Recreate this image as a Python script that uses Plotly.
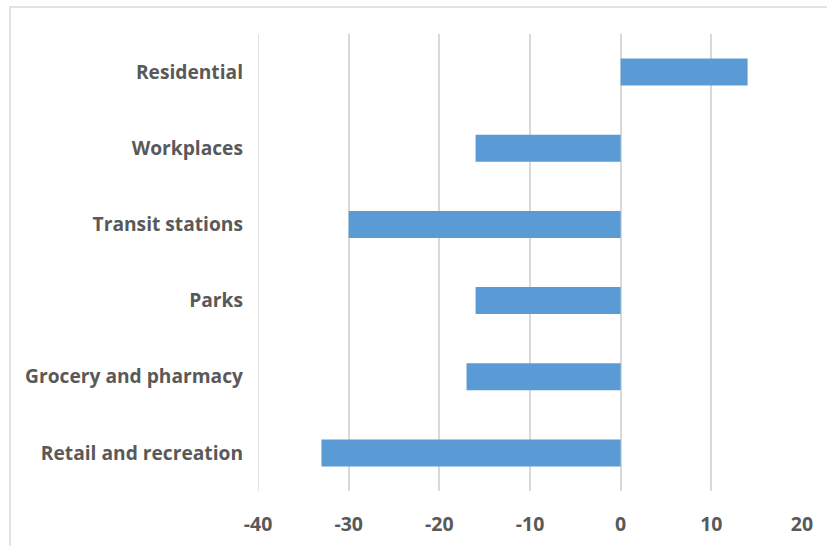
import plotly.graph_objects as go

categories = ["Retail and recreation", "Grocery and pharmacy", "Parks",
              "Transit stations", "Workplaces", "Residential"]
values = [-33, -17, -16, -30, -16, 14]
tick_vals = [-40, -30, -20, -10, 0, 10, 20]

fig = go.Figure(go.Bar(
    y=categories, x=values, orientation="h",
    marker=dict(color="#5B9BD5", line=dict(width=0)),
    width=0.355,
))

W, H = 827, 546
L, R, T, B = 258, 25, 34, 55
pw, ph = W - L - R, H - T - B
GRID = "#D9D9D9"

fig.update_layout(
    width=W, height=H,
    margin=dict(l=L, r=R, t=T, b=B, autoexpand=False),
    paper_bgcolor="white", plot_bgcolor="white",
    showlegend=False,
    font=dict(family="Open Sans", color="#595959"),
    xaxis=dict(range=[tick_vals[0], tick_vals[-1]], tickvals=tick_vals,
               ticktext=[str(v) for v in tick_vals],
               showgrid=True, gridcolor=GRID, gridwidth=1.5,
               zeroline=True, zerolinecolor=GRID, zerolinewidth=1.5,
               showline=False, ticks="", ticklen=0, ticklabelstandoff=19,
               tickfont=dict(size=19.5, color="#595959", family="Open Sans", weight="bold"),
               fixedrange=True),
    yaxis=dict(categoryorder="array", categoryarray=categories,
               range=[-0.5, 5.5], showgrid=False, zeroline=False, showline=False,
               ticks="", ticklabelstandoff=14,
               tickfont=dict(size=19.2, color="#595959", family="Open Sans", weight="bold"),
               fixedrange=True),
    shapes=[
        dict(type="rect", xref="paper", yref="paper",
             x0=(10 - L) / pw, x1=1.2, y0=-0.3, y1=(H - B - 7) / ph,
             line=dict(color=GRID, width=1.5), fillcolor="rgba(0,0,0,0)",
             layer="below"),
        # left-most gridline at the range edge (plotly omits it)
        dict(type="line", xref="x", yref="paper",
             x0=tick_vals[0], x1=tick_vals[0], y0=0, y1=1,
             line=dict(color=GRID, width=1.5), layer="below"),
    ],
)
fig.write_html("out.html", config={"displayModeBar": False},
               post_script="document.body.style.margin='0';")
